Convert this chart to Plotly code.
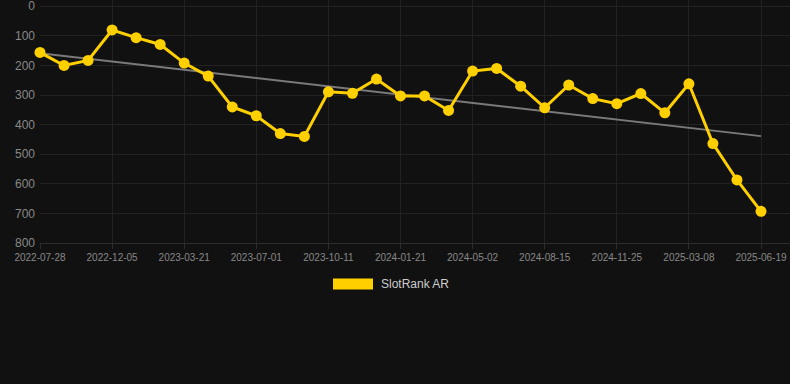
import numpy as np
import plotly.graph_objects as go

dates = [
    "2022-07-28", "2022-09-10", "2022-10-23", "2022-12-05", "2023-01-10", "2023-02-14",
    "2023-03-21", "2023-04-24", "2023-05-28", "2023-07-01", "2023-08-04", "2023-09-07",
    "2023-10-11", "2023-11-13", "2023-12-18", "2024-01-21", "2024-02-24", "2024-03-29",
    "2024-05-02", "2024-06-06", "2024-07-11", "2024-08-15", "2024-09-18", "2024-10-22",
    "2024-11-25", "2024-12-29", "2025-02-02", "2025-03-08", "2025-04-11", "2025-05-15",
    "2025-06-19",
]
ranks = [156, 200, 183, 80, 106, 129, 192, 236, 340, 370, 430, 440, 289, 294, 246,
         303, 303, 352, 219, 210, 270, 343, 266, 312, 329, 295, 360, 262, 464, 587, 693]
tick_labels = dates[::3]
y_ticks = [0, 100, 200, 300, 400, 500, 600, 700, 800]
series_name = "SlotRank AR"

idx = np.arange(len(ranks))
slope, intercept = np.polyfit(idx, ranks, 1)
trend = slope * idx + intercept

PLOT_H = 243.5  # plot area height in px (top margin 0)
top_pad = 6.3 / (237.5 / 800)  # value units above 0

fig = go.Figure()
fig.add_trace(go.Scatter(
    x=dates, y=trend, mode="lines",
    line=dict(color="#7a7a7a", width=2), hoverinfo="skip", showlegend=False,
))
fig.add_trace(go.Scatter(
    x=dates, y=ranks, mode="lines+markers", name=series_name,
    line=dict(color="#FFD000", width=3),
    marker=dict(color="#FFD000", size=11),
    showlegend=False, cliponaxis=False,
))

# legend drawn manually (rectangle swatch + label)
fig.add_shape(type="rect", xref="paper", yref="paper",
              x0=(333 - 40) / 750, x1=(373 - 40) / 750,
              y0=(PLOT_H - 290) / PLOT_H, y1=(PLOT_H - 279) / PLOT_H,
              fillcolor="#FFD000", line=dict(width=0))
fig.add_annotation(xref="paper", yref="paper",
                   x=(379 - 40) / 750, y=(PLOT_H - 284.5) / PLOT_H,
                   text=series_name, showarrow=False, xanchor="left", yanchor="middle",
                   font=dict(color="#cccccc", size=12, family="Liberation Sans"))

fig.update_layout(
    width=790, height=384,
    margin=dict(l=40, r=0, t=0, b=384 - PLOT_H),
    paper_bgcolor="#111111", plot_bgcolor="#111111",
    font=dict(family="Liberation Sans", color="#888888"),
    showlegend=False,
)
fig.update_xaxes(
    type="category", categoryorder="array", categoryarray=dates,
    tickmode="array", tickvals=tick_labels, ticktext=tick_labels,
    range=[0, 30 + 29 / 24.03],
    showgrid=True, gridcolor="#222222", gridwidth=1,
    showline=True, linecolor="#2c2c2c", linewidth=1,
    ticks="outside", ticklen=5, tickcolor="#2c2c2c",
    tickfont=dict(size=10, color="#888888"),
    zeroline=False,
)
fig.update_yaxes(
    range=[800, -top_pad], tickmode="array", tickvals=y_ticks,
    showgrid=True, gridcolor="#222222", gridwidth=1,
    tickfont=dict(size=12, color="#888888"),
    zeroline=False, ticks="", ticklabelstandoff=4,
    ticklabeloverflow="allow",
)

fig.write_html(
    "out.html",
    config={"displayModeBar": False},
    post_script="document.body.style.margin='0';document.body.style.padding='0';"
                "document.body.style.background='#111111';"
                "document.body.style.overflow='hidden';",
)
